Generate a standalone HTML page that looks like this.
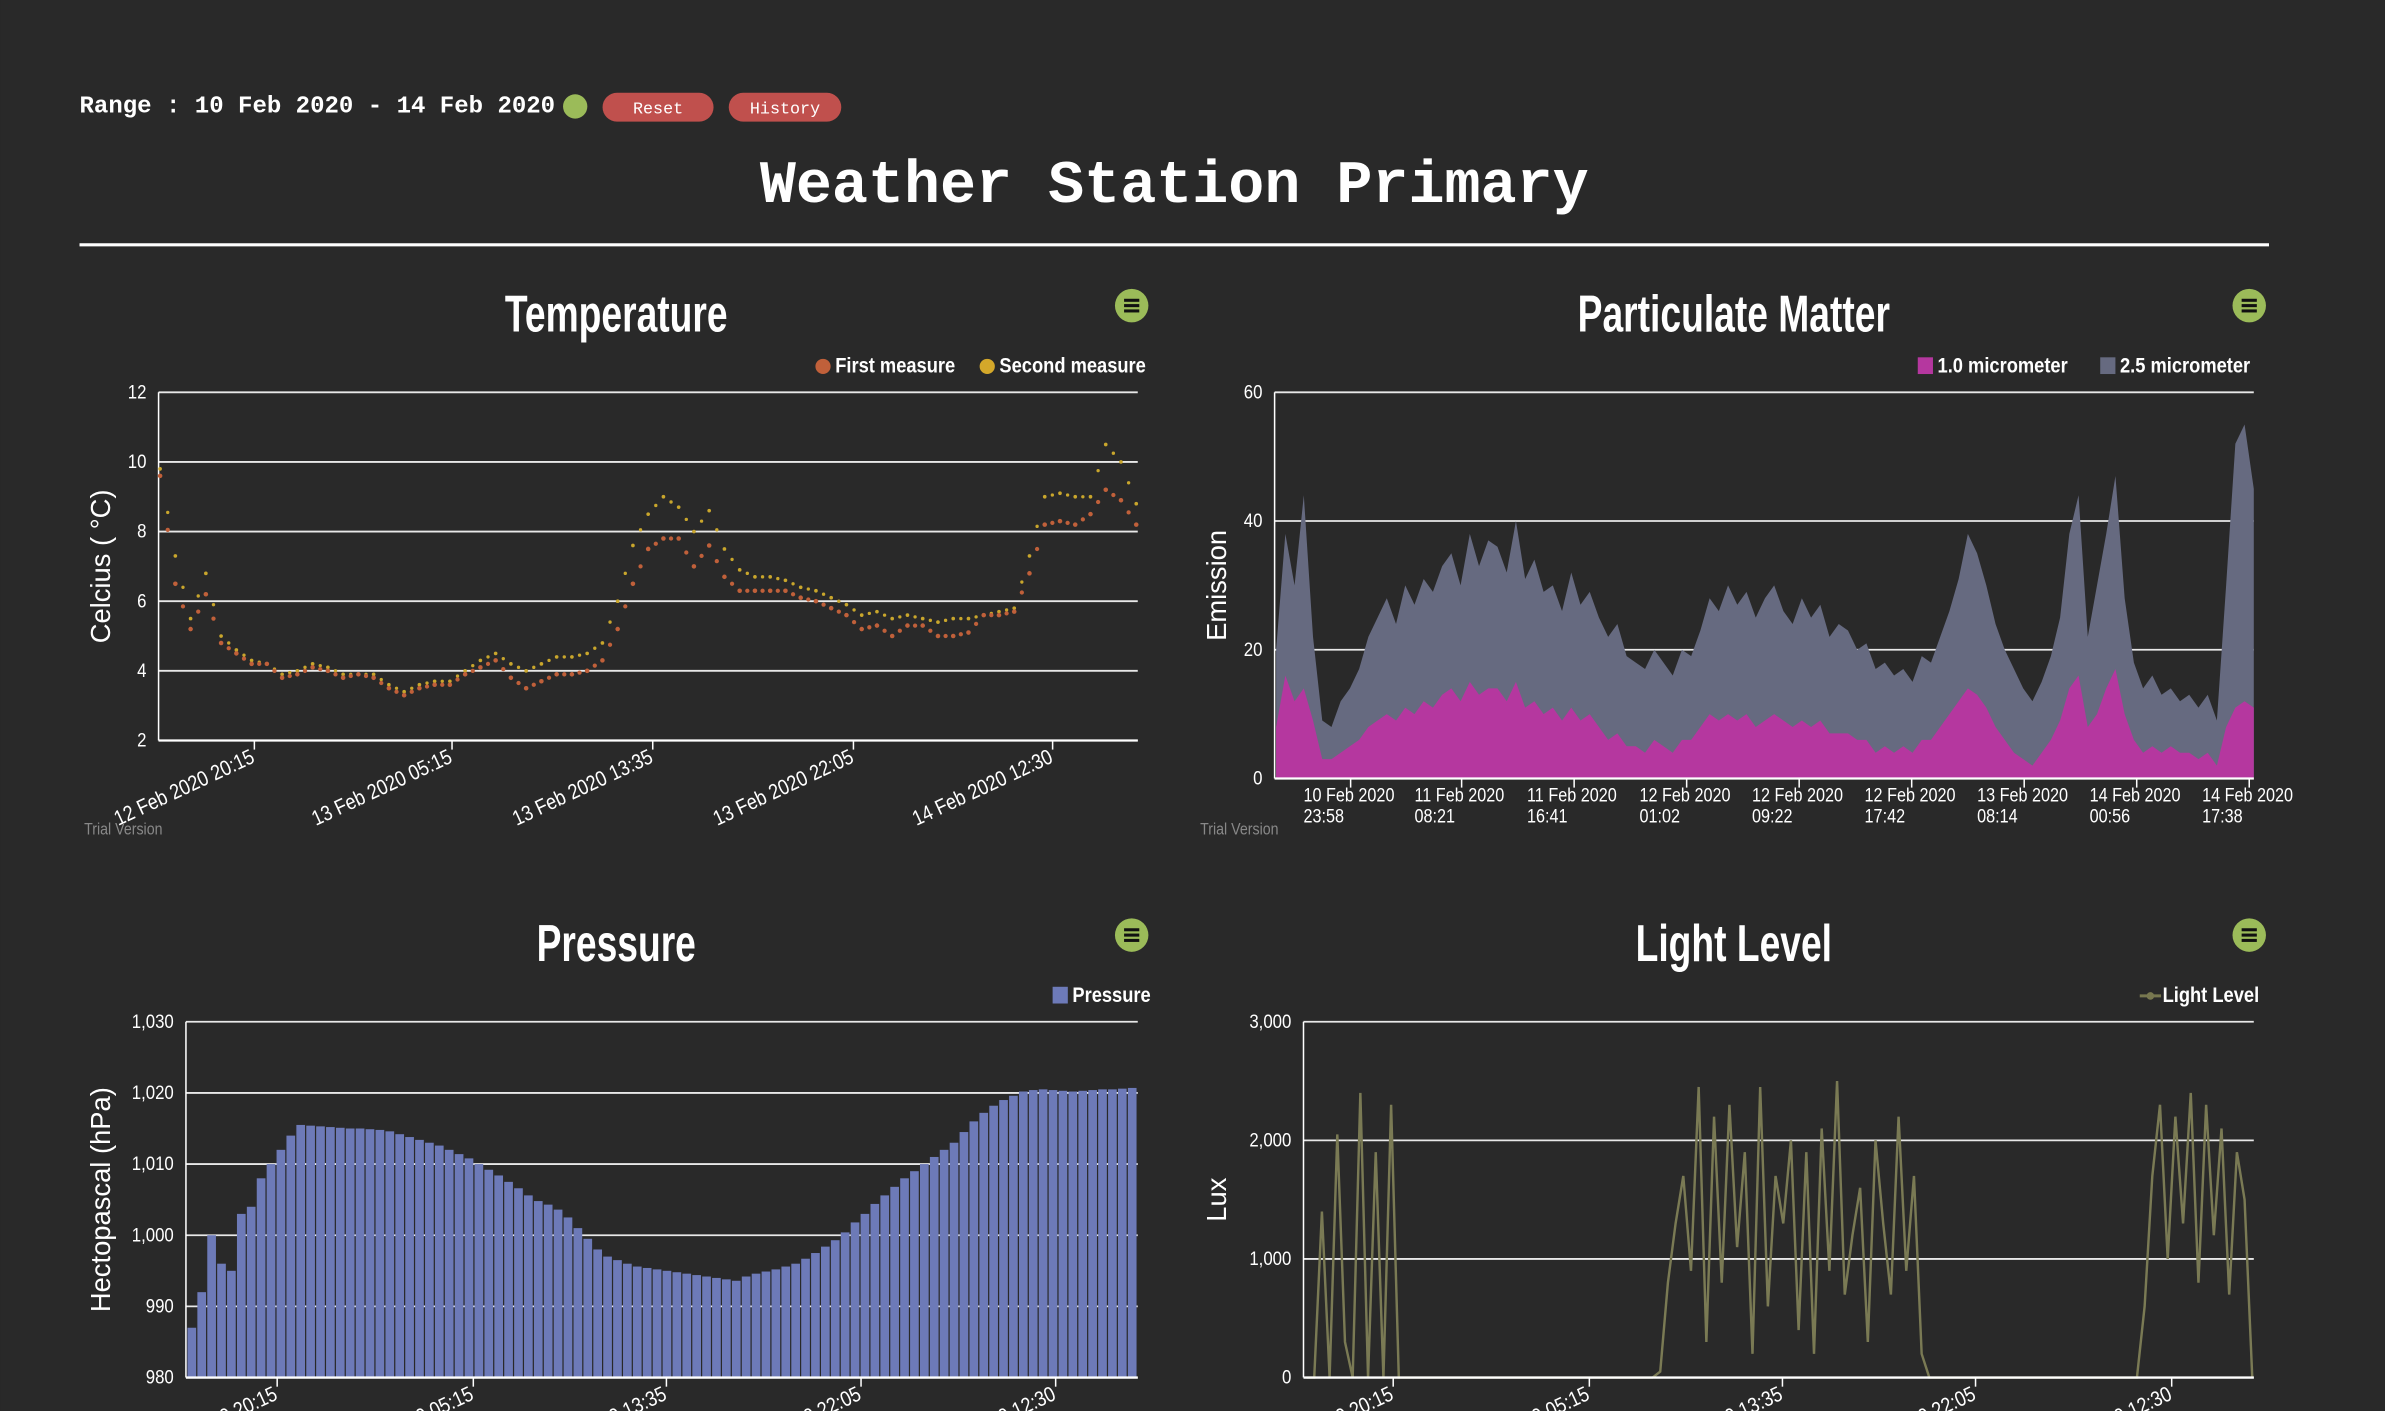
<!DOCTYPE html>
<html><head><meta charset="utf-8">
<style>
html,body{margin:0;padding:0;background:#292929;}
svg{display:block;}
text{font-family:"Liberation Sans",sans-serif;}
</style></head>
<body>
<svg id="root" width="2385" height="1411" viewBox="0 0 1568 928" xmlns="http://www.w3.org/2000/svg">
<rect x="0" y="0" width="1568" height="928" fill="#292929"/>
<g>
<text x="52" y="74" fill="#fff" font-size="15.8" font-weight="bold" style="font-family:'Liberation Mono',monospace">Range : 10 Feb 2020 - 14 Feb 2020</text>
<circle cx="378" cy="70" r="8" fill="#9bbb59"/>
<g><rect x="396" y="61" width="73" height="19" rx="9.5" fill="#c0504d"/><text x="432.5" y="74.5" fill="#fff" font-size="11" text-anchor="middle" style="font-family:'Liberation Mono',monospace">Reset</text></g>
<g><rect x="479" y="61" width="74" height="19" rx="9.5" fill="#c0504d"/><text x="516" y="74.5" fill="#fff" font-size="11" text-anchor="middle" style="font-family:'Liberation Mono',monospace">History</text></g>
<text x="772" y="133" fill="#fff" font-size="39.5" font-weight="bold" text-anchor="middle" style="font-family:'Liberation Mono',monospace">Weather Station Primary</text>
<line x1="52" y1="161" x2="1492" y2="161" stroke="#fff" stroke-width="2"/>
</g>
<g id="charts"></g>
</svg>
<script>
// ---------- DATA ----------
const tempTickLabels = ["12 Feb 2020 20:15","13 Feb 2020 05:15","13 Feb 2020 13:35","13 Feb 2020 22:05","14 Feb 2020 12:30"];
const tempFirst = [9.6,6.5,5.2,6.2,4.8,4.5,4.2,4.2,3.8,3.9,4.1,4.0,3.8,3.9,3.8,3.5,3.3,3.5,3.6,3.6,3.9,4.1,4.3,3.8,3.5,3.7,3.9,3.9,4.0,4.3,5.2,6.5,7.5,7.8,7.8,7.0,7.6,6.7,6.3,6.3,6.3,6.3,6.1,6.0,5.8,5.6,5.2,5.3,5.0,5.3,5.3,5.0,5.0,5.1,5.6,5.6,5.7,6.8,8.2,8.3,8.2,8.5,9.2,8.9,8.2];
const tempSecond = [9.8,7.3,5.5,6.8,5.0,4.6,4.3,4.2,3.9,4.0,4.2,4.1,3.9,3.9,3.9,3.6,3.4,3.6,3.7,3.7,4.0,4.3,4.5,4.2,4.0,4.2,4.4,4.4,4.5,4.8,6.0,7.6,8.5,9.0,8.7,8.0,8.6,7.5,6.9,6.7,6.7,6.6,6.4,6.3,6.1,5.9,5.6,5.7,5.5,5.6,5.5,5.4,5.5,5.5,5.6,5.7,5.8,7.3,9.0,9.1,9.0,9.0,10.5,10.0,8.8];
const tempYTicks = [2,4,6,8,10,12];

const pmTickLabels = [["10 Feb 2020","23:58"],["11 Feb 2020","08:21"],["11 Feb 2020","16:41"],["12 Feb 2020","01:02"],["12 Feb 2020","09:22"],["12 Feb 2020","17:42"],["13 Feb 2020","08:14"],["14 Feb 2020","00:56"],["14 Feb 2020","17:38"]];
const pm25 = [20,38,30,44,22,9,8,12,14,17,22,25,28,24,30,27,31,29,33,35,30,38,33,37,36,32,40,31,34,29,30,26,32,27,29,25,22,24,19,18,17,20,18,16,20,19,23,28,26,30,27,29,25,28,30,26,24,28,25,27,22,24,23,20,21,17,18,16,17,15,19,18,22,26,31,38,35,30,24,20,17,14,12,15,19,25,38,44,22,30,38,47,28,18,14,16,13,14,12,13,11,13,9,30,52,55,45];
const pm10 = [8,16,12,14,9,3,3,4,5,6,8,9,10,9,11,10,12,11,13,14,12,15,13,14,14,12,15,11,12,10,11,9,11,9,10,8,6,7,5,5,4,6,5,4,6,6,8,10,9,10,9,10,8,9,10,9,8,9,8,9,7,7,7,6,6,4,5,4,5,4,6,6,8,10,12,14,13,11,8,6,4,3,2,4,6,9,14,16,8,10,14,17,10,6,4,5,4,5,4,4,3,4,2,8,11,12,11];
const pmYTicks = [0,20,40,60];

const presTickLabels = ["12 Feb 2020 20:15","13 Feb 2020 05:15","13 Feb 2020 13:35","13 Feb 2020 22:05","14 Feb 2020 12:30"];
const pressure = [987,992,1000,996,995,1003,1004,1008,1010,1012,1014,1015.5,1015.4,1015.3,1015.2,1015.1,1015,1015,1014.9,1014.8,1014.6,1014.2,1013.8,1013.4,1013,1012.6,1012,1011.4,1010.8,1010,1009.2,1008.4,1007.5,1006.6,1005.6,1004.8,1004.3,1003.6,1002.5,1001,999.5,998,997,996.5,996,995.6,995.4,995.2,995,994.8,994.6,994.4,994.2,994,993.8,993.6,994.2,994.6,994.9,995.2,995.6,996,996.7,997.5,998.4,999.3,1000.4,1001.8,1003,1004.4,1005.6,1006.8,1008,1009,1010,1011,1012,1013,1014.5,1016,1017.2,1018.2,1019,1019.6,1020.2,1020.4,1020.5,1020.4,1020.3,1020.2,1020.3,1020.4,1020.5,1020.5,1020.6,1020.7];
const presYTicks = [980,990,1000,1010,1020,1030];

const lightTickLabels = ["12 Feb 2020 20:15","13 Feb 2020 05:15","13 Feb 2020 13:35","13 Feb 2020 22:05","14 Feb 2020 12:30"];
const light = [0,0,1400,0,2050,300,0,2400,0,1900,0,2300,0,0,0,0,0,0,0,0,0,0,0,0,0,0,0,0,0,0,0,0,0,0,0,0,0,0,0,0,0,0,0,0,0,0,50,800,1300,1700,900,2450,300,2200,800,2300,1100,1900,200,2450,600,1700,1300,2000,400,1900,200,2100,900,2500,700,1200,1600,300,2000,1300,700,2200,900,1700,200,0,0,0,0,0,0,0,0,0,0,0,0,0,0,0,0,0,0,0,0,0,0,0,0,0,0,0,0,600,1700,2300,1000,2200,1300,2400,800,2300,1200,2100,700,1900,1500,0];
const lightYTicks = [0,1000,2000,3000];

// ---------- DRAW ----------
const NS = "http://www.w3.org/2000/svg";
const root = document.getElementById('charts');
function mk(tag, attrs, parent){
  const e = document.createElementNS(NS, tag);
  for (const k in attrs) e.setAttribute(k, attrs[k]);
  (parent||root).appendChild(e);
  return e;
}
function scale(d0,d1,r0,r1){return v=>r0+(v-d0)/(d1-d0)*(r1-r0);}

function panel(opt){
  const g = mk('g',{});
  
  
  const t = mk('text',{x:0,y:0,fill:'#fff','font-size':34,'font-weight':'bold','text-anchor':'middle',transform:`translate(${opt.titleX},${opt.titleY}) scale(0.72,1)`},g);
  t.textContent = opt.title;
  
  
  const mb = mk('g',{},g);
  
  
  mk('circle',{cx:opt.menuX,cy:opt.menuY,r:11,fill:'#9bbb59'},mb);
  for (let i=-1;i<=1;i++) mk('rect',{x:opt.menuX-5,y:opt.menuY+i*3.5-1,width:10,height:2,fill:'#111'},mb);
  const yt = mk('text',{x:0,y:0,fill:'#fff','font-size':18,'text-anchor':'middle',transform:`translate(${opt.yTitleX},${(opt.top+opt.bottom)/2}) rotate(-90)`},g);
  yt.textContent = opt.yTitle;
  
  
  const y = scale(opt.yMin,opt.yMax,opt.bottom,opt.top);
  opt.yTicks.forEach(v=>{
    const l = mk('line',{x1:opt.left,x2:opt.right,y1:y(v),y2:y(v),stroke:'#e8e8e8','stroke-width':1.2},g);
    
    
    const tx = mk('text',{x:0,y:0,fill:'#fff','font-size':13,'text-anchor':'end',transform:`translate(${opt.left-8},${y(v)+4}) scale(0.85,1)`},g);
    tx.textContent = opt.fmt ? opt.fmt(v) : v;
    
    
  });
  const ax = mk('line',{x1:opt.left,x2:opt.left,y1:opt.top,y2:opt.bottom,stroke:'#fff','stroke-width':1},g);
  
  
  const plot = mk('g',{},g);
  
  
  opt.draw(plot, y);
  const bx = mk('line',{x1:opt.left,x2:opt.right,y1:opt.bottom,y2:opt.bottom,stroke:'#fff','stroke-width':1.5},g);
  
  
  opt.ticksX.forEach((tx,i)=>{
    mk('line',{x1:tx,x2:tx,y1:opt.bottom,y2:opt.bottom+6,stroke:'#fff'},g);
    const lab = opt.tickLabels[i];
    if (Array.isArray(lab)){
      const a = mk('text',{x:0,y:0,fill:'#fff','font-size':13,transform:`translate(${tx-31},${opt.bottom+15}) scale(0.82,1)`},g);
      a.textContent = lab[0];
      
      
      const b = mk('text',{x:0,y:0,fill:'#fff','font-size':13,transform:`translate(${tx-31},${opt.bottom+29}) scale(0.82,1)`},g);
      b.textContent = lab[1];
      
      
    } else {
      const a = mk('text',{x:0,y:0,fill:'#fff','font-size':14,'text-anchor':'end',transform:`translate(${tx+1},${opt.bottom+14}) rotate(-25) scale(0.85,1)`},g);
      a.textContent = lab;
      
      
    }
  });
  if (opt.trial){
    const tv = mk('text',{x:0,y:0,fill:'#888','font-size':11,transform:`translate(${opt.trial},549) scale(0.85,1)`},g);
    tv.textContent = 'Trial Version';
    
    
  }
  opt.legend.forEach(L=>{
    const lg = mk('g',{},g);
    
    
    if (L.shape==='circle') mk('circle',{cx:L.x,cy:opt.legendY-4,r:5,fill:L.color},lg);
    else if (L.shape==='square') mk('rect',{x:L.x-5,y:opt.legendY-10,width:10,height:11,fill:L.color},lg);
    else { mk('line',{x1:L.x-7,x2:L.x+7,y1:opt.legendY-4,y2:opt.legendY-4,stroke:L.color,'stroke-width':2},lg); mk('circle',{cx:L.x,cy:opt.legendY-4,r:2.5,fill:L.color},lg); }
    const lt = mk('text',{x:0,y:0,fill:'#fff','font-size':14,'font-weight':'bold',transform:`translate(${L.x+8},${opt.legendY}) scale(0.86,1)`},lg);
    lt.textContent = L.text;
  });
}

// Temperature
panel({name:'temperature-chart',title:'Temperature',titleX:405,titleY:218,menuX:744,menuY:201,
  yTitle:'Celcius ( °C)',yTitleX:72,left:104,right:748,top:258,bottom:487,yMin:2,yMax:12,yTicks:tempYTicks,
  ticksX:[167,297,429,561,692],tickLabels:tempTickLabels,trial:55,legendY:245,
  legend:[{shape:'circle',x:541,color:'#c0603a',text:'First measure'},{shape:'circle',x:649,color:'#d4a82a',text:'Second measure'}],
  draw:(g,y)=>{
    const x = scale(0,tempFirst.length-1,105,747);
    tempSecond.forEach((v,i)=>{
      const c = mk('circle',{cx:x(i),cy:y(v),r:1.2,fill:'#c9a62c'},g);
      
      
      if (i<tempSecond.length-1){ const c2=mk('circle',{cx:(x(i)+x(i+1))/2,cy:(y(v)+y(tempSecond[i+1]))/2,r:1.1,fill:'#c9a62c'},g);
        
         }
    });
    tempFirst.forEach((v,i)=>{
      const c = mk('circle',{cx:x(i),cy:y(v),r:1.5,fill:'#c0603a'},g);
      
      
      if (i<tempFirst.length-1){ const c2=mk('circle',{cx:(x(i)+x(i+1))/2,cy:(y(v)+y(tempFirst[i+1]))/2,r:1.4,fill:'#c0603a'},g);
        
         }
    });
  }});

// Particulate
panel({name:'particulate-matter-chart',title:'Particulate Matter',titleX:1140,titleY:218,menuX:1479,menuY:201,
  yTitle:'Emission',yTitleX:806,left:838,right:1482,top:258,bottom:512,yMin:0,yMax:60,yTicks:pmYTicks,
  ticksX:[888,961,1035,1109,1183,1257,1331,1405,1479],tickLabels:pmTickLabels,trial:789,legendY:245,
  legend:[{shape:'square',x:1266,color:'#b5379f',text:'1.0 micrometer'},{shape:'square',x:1386,color:'#666a80',text:'2.5 micrometer'}],
  draw:(g,y)=>{
    const x = scale(0,pm25.length-1,839,1482);
    const area = arr => 'M'+x(0)+','+y(0)+' '+arr.map((v,i)=>'L'+x(i)+','+y(v)).join(' ')+' L'+x(arr.length-1)+','+y(0)+' Z';
    const a = mk('path',{d:area(pm25),fill:'#666a80'},g);
    
    
    const b = mk('path',{d:area(pm10),fill:'#b5379f'},g);
    
    
  }});

// Pressure
panel({name:'pressure-chart',title:'Pressure',titleX:405,titleY:632,menuX:744,menuY:615,
  yTitle:'Hectopascal (hPa)',yTitleX:72,left:122,right:748,top:672,bottom:906,yMin:980,yMax:1030,yTicks:presYTicks,
  fmt:v=>v.toLocaleString('en-US'),
  ticksX:[182,311,438,566,694],tickLabels:presTickLabels,legendY:659,
  legend:[{shape:'square',x:697,color:'#6d7ab8',text:'Pressure'}],
  draw:(g,y)=>{
    const n = pressure.length, w = (748-123)/n;
    pressure.forEach((v,i)=>{
      const r = mk('rect',{x:123+i*w,y:y(v),width:Math.max(w-0.8,1),height:y(980)-y(v),fill:'#6d7ab8'},g);
      
      
    });
  }});

// Light
panel({name:'light-level-chart',title:'Light Level',titleX:1140,titleY:632,menuX:1479,menuY:615,
  yTitle:'Lux',yTitleX:806,left:857,right:1482,top:672,bottom:906,yMin:0,yMax:3000,yTicks:lightYTicks,
  fmt:v=>v.toLocaleString('en-US'),
  ticksX:[916,1045,1172,1299,1428],tickLabels:lightTickLabels,legendY:659,
  legend:[{shape:'line',x:1414,color:'#77774f',text:'Light Level'}],
  draw:(g,y)=>{
    const x = scale(0,light.length-1,859,1481);
    const p = mk('polyline',{points:light.map((v,i)=>x(i)+','+y(v)).join(' '),fill:'none',stroke:'#7a7a54','stroke-width':1.6},g);
    
    
  }});
</script>
</body></html>
